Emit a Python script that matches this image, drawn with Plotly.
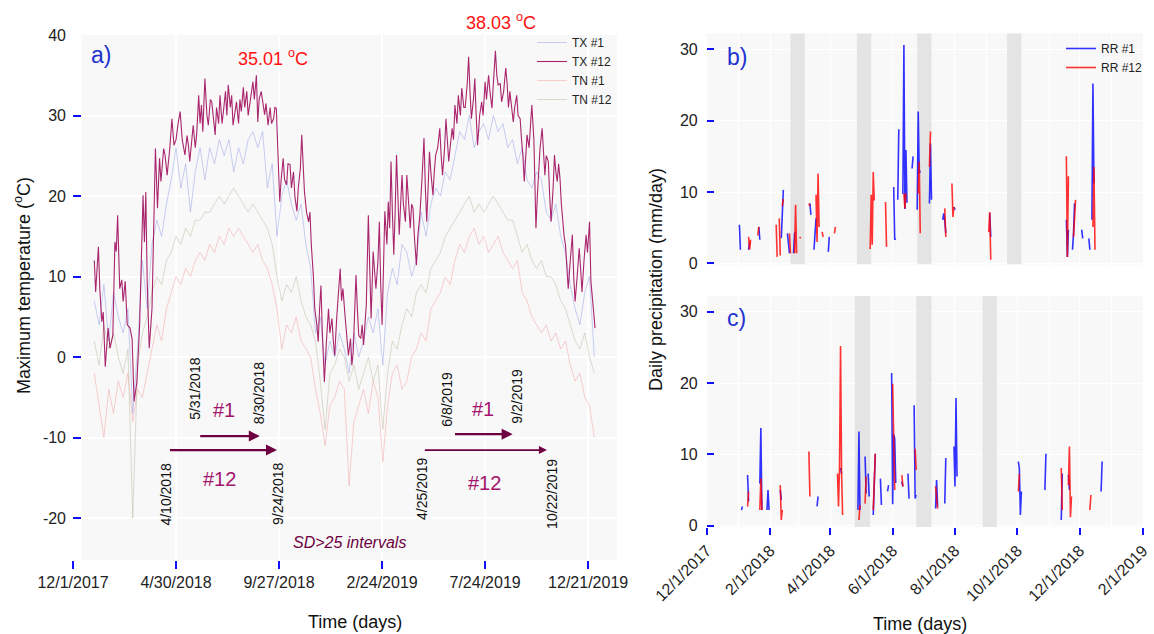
import pandas as pd
import plotly.graph_objects as go

FONT = "Liberation Sans, Arial, sans-serif"
W, H = 1154, 634

# ---------------- Panel a data (days counted from 2018-01-01) ----------------
temp_start = "2018-01-01"
tx12_pairs = [
    (0, 12.0), (2, 8.1), (6, 13.7), (8, 8.5), (11, 4.4), (13, 5.6), (16, -1.2), (20, 3.6), (23, 1.1), (27, 2.7),
    (30, 14.3), (32, 13.1), (34, 17.6), (37, 8.5), (40, 9.6), (42, 6.9), (45, 9.4), (48, 4.0), (52, 3.6), (55, 2.3),
    (58, -5.5), (62, -3.1), (66, 4.0), (69, 15.2), (71, 20.1), (73, 14.3), (75, 20.5), (77, 9.4), (80, 1.1), (84, 6.0),
    (87, 17.6), (89, 25.9), (92, 18.5), (95, 24.7), (97, 21.8), (101, 25.9), (103, 25.1), (106, 22.6), (110, 26.0), (113, 29.6),
    (116, 26.3), (119, 27.0), (122, 29.0), (125, 30.5), (128, 27.0), (132, 25.1), (135, 27.5), (137, 26.3), (139, 24.3), (144, 28.8),
    (147, 26.0), (149, 27.6), (152, 32.5), (154, 29.0), (156, 31.3), (158, 28.0), (161, 34.6), (164, 30.0), (166, 28.8), (169, 32.0),
    (171, 31.7), (174, 29.0), (176, 27.6), (178, 31.0), (181, 29.0), (183, 32.5), (186, 29.0), (188, 30.5), (191, 33.0), (193, 30.0),
    (195, 33.8), (198, 31.0), (200, 32.5), (202, 28.8), (205, 31.0), (207, 31.7), (210, 29.0), (212, 32.0), (214, 30.5), (217, 33.5),
    (219, 31.0), (222, 33.0), (224, 30.0), (227, 31.7), (229, 33.0), (231, 34.2), (233, 32.0), (236, 35.01), (238, 29.2), (240, 32.0),
    (243, 33.0), (246, 31.0), (248, 30.1), (250, 31.5), (253, 28.8), (256, 31.0), (258, 29.0), (261, 29.6), (263, 31.0), (265, 30.9),
    (268, 24.3), (270, 19.3), (272, 22.0), (275, 24.7), (277, 22.0), (280, 21.4), (282, 24.0), (285, 23.9), (287, 21.0), (290, 23.0),
    (292, 20.0), (295, 18.1), (297, 21.0), (300, 23.4), (302, 27.6), (304, 24.0), (306, 20.5), (309, 18.0), (312, 16.8), (314, 18.0),
    (316, 13.9), (319, 10.0), (321, 6.0), (324, 4.0), (326, 1.9), (328, 6.0), (330, 8.9), (332, 3.0), (335, -3.1), (338, 2.0),
    (341, 6.0), (343, 3.0), (346, 4.8), (348, 2.0), (350, 0.2), (353, 5.0), (355, 8.0), (358, 11.0), (360, 7.0), (362, 8.5),
    (365, 5.2), (367, 3.0), (370, 0.2), (373, 2.3), (375, -1.0), (377, 0.7), (379, 5.0), (381, 10.2), (383, 6.0), (385, 2.7),
    (388, 2.3), (390, 4.0), (392, 1.5), (394, 4.0), (396, 6.5), (399, 17.6), (401, 9.0), (403, 4.8), (406, 13.1), (408, 10.0),
    (410, 8.5), (413, 12.0), (415, 16.8), (417, 9.0), (419, 4.0), (421, 11.0), (423, 18.1), (426, 14.0), (428, 19.3), (430, 16.0),
    (432, 24.3), (434, 18.0), (436, 12.7), (438, 18.0), (440, 25.1), (442, 20.0), (444, 15.2), (446, 19.0), (448, 22.6), (450, 19.0),
    (453, 16.8), (455, 22.6), (457, 20.0), (460, 16.0), (462, 19.0), (464, 18.5), (466, 15.0), (469, 11.4), (471, 15.0), (474, 17.6),
    (477, 22.0), (480, 27.2), (482, 21.0), (484, 16.8), (486, 21.0), (488, 25.5), (490, 23.0), (493, 20.1), (495, 23.0), (497, 25.1),
    (500, 26.0), (503, 28.4), (505, 25.0), (507, 22.6), (510, 26.0), (512, 29.6), (514, 27.0), (516, 24.3), (518, 26.0), (521, 28.4),
    (523, 27.0), (525, 31.3), (528, 29.0), (530, 32.5), (533, 30.0), (535, 33.4), (538, 31.0), (540, 31.0), (543, 34.0), (545, 37.3),
    (547, 33.0), (549, 29.6), (552, 32.0), (554, 34.6), (556, 30.0), (558, 26.3), (561, 30.0), (564, 31.7), (566, 30.0), (569, 34.2),
    (571, 32.0), (574, 35.0), (576, 33.0), (579, 30.9), (581, 34.0), (584, 38.03), (586, 35.0), (588, 33.8), (591, 34.0), (593, 31.7),
    (596, 33.0), (599, 35.9), (601, 34.0), (603, 31.0), (605, 33.0), (608, 31.0), (610, 29.2), (612, 31.0), (615, 32.5), (617, 30.0),
    (620, 29.6), (622, 27.0), (624, 25.0), (626, 21.8), (628, 25.0), (630, 27.6), (633, 26.0), (635, 29.0), (637, 31.3), (640, 27.0),
    (643, 16.0), (645, 20.0), (647, 23.4), (649, 26.0), (652, 28.4), (654, 25.0), (656, 22.6), (658, 25.0), (661, 24.3), (663, 20.0),
    (665, 16.8), (668, 21.0), (670, 25.1), (672, 23.0), (674, 21.8), (676, 24.0), (678, 22.2), (680, 19.0), (682, 16.8), (684, 15.0),
    (686, 13.9), (688, 11.0), (690, 8.5), (693, 12.0), (696, 15.2), (698, 10.0), (700, 6.9), (703, 10.0), (706, 13.5), (708, 11.0),
    (710, 8.1), (713, 12.0), (716, 15.2), (718, 13.0), (721, 16.8), (723, 9.4), (725, 7.0), (727, 5.6), (729, 3.6),
]
tx12_day = [d for d, _ in tx12_pairs]
tx12_val = [v for _, v in tx12_pairs]

# weekly readings (every 7 days from 2018-01-01)
tx1_weekly = [7, 4, 9, 2, 8, 5, 3, 6, -7, 1, 12, 6, 14, 17, 15, 19, 22, 26, 21, 24, 18, 23, 26, 22, 26, 24, 27,
              25, 27, 23, 26, 24, 27, 28, 26, 28, 21, 24, 15, 20, 22, 19, 17, 19, 14, 11, 3, 5, -1, 2, 0, 3, 1,
              -2, 3, 0, 2, 5, 3, 6, -1, 8, 11, 9, 14, 13, 10, 12, 18, 15, 19, 21, 20, 23, 22, 25, 28, 27, 30, 26,
              28, 29, 27, 30, 28, 29, 26, 27, 24, 26, 22, 21, 23, 22, 18, 17, 19, 15, 13, 9, 6, 4, 8, 10, 0]
tn12_weekly = [2, -1, 4, 1, 3, 0, -2, 1, -20, -1, 3, 5, 8, 10, 9, 12, 13, 15, 14, 16, 15, 17, 17, 18, 18, 19, 20,
               19, 20, 21, 20, 19, 18, 19, 18, 17, 16, 14, 10, 7, 9, 8, 10, 7, 5, 4, 2, -3, -9, -2, -1, 1, 0,
               -3, -1, -4, -2, 0, -3, -1, -9, -2, 2, 1, 4, 6, 5, 8, 9, 8, 11, 12, 13, 15, 16, 17, 18, 19, 20, 18,
               19, 18, 19, 20, 19, 18, 17, 17, 15, 13, 14, 12, 11, 12, 10, 10, 9, 7, 6, 4, 2, 1, 3, 0, -2]
tn1_weekly = [-2, -6, -10, -4, -7, -3, -5, -2, -8, -4, -5, -2, 1, 4, 2, 6, 8, 10, 9, 11, 10, 12, 13, 12, 14, 13, 15,
              14, 16, 15, 16, 15, 14, 13, 14, 12, 11, 9, 6, 1, 4, 3, 5, 2, 1, 0, -4, -7, -11, -6, -5, -3, -4,
              -16, -8, -6, -4, -7, -3, -5, -13, -6, -2, -1, -4, -3, 0, 1, 3, 2, 6, 7, 8, 10, 9, 12, 14, 13, 15, 16,
              14, 15, 13, 14, 15, 13, 12, 11, 12, 8, 7, 5, 4, 3, 4, 2, 3, 1, 2, -1, -3, -2, -5, -6, -10]

a_tick_dates = ["2017-12-01", "2018-04-30", "2018-09-27", "2019-02-24", "2019-07-24", "2019-12-21"]
a_tick_text = ["12/1/2017", "4/30/2018", "9/27/2018", "2/24/2019", "7/24/2019", "12/21/2019"]
a_ytick_vals = [-20, -10, 0, 10, 20, 30, 40]
a_ytick_text = ["-20", "-10", "0", "10", "20", "30", "40"]

peak_labels = ["35.01 <sup>o</sup>C", "38.03 <sup>o</sup>C"]
interval_dates = ["5/31/2018", "8/30/2018", "4/10/2018", "9/24/2018", "6/8/2019", "9/2/2019", "4/25/2019", "10/22/2019"]
interval_iso = ["2018-05-31", "2018-08-30", "2018-04-10", "2018-09-24", "2019-06-08", "2019-09-02", "2019-04-25", "2019-10-22"]
arrow_start = ["2018-06-02", "2018-04-19", "2019-06-08", "2019-04-25"]
arrow_end = ["2018-08-30", "2018-09-24", "2019-09-02", "2019-10-22"]
arrow_names = ["#1", "#12", "#1", "#12"]

# ---------------- Panels b/c data: (start day from 2018-01-01, daily values) ----------------
rr1_b = [(1, [5.4, 1.9]), (10, [1.9, 3.0]), (20, [5.1, 3.3]), (42, [3.5, 7.7, 10.3]), (48, [4.2, 2.5, 1.4]),
         (54, [1.4, 4.2, 4.4]), (70, [8.4, 6.8]), (74, [1.9, 4.6, 6.3]), (88, [1.6, 3.7]), (152, [10.7, 3.3, 3.5]),
         (156, [8.9, 18.8]), (161, [9.7, 30.6, 7.6, 15.9, 8.5]), (170, [13.3, 15.0]), (175, [7.5, 21.3, 12.6, 13.0]),
         (187, [8.4, 16.8, 8.9]), (200, [6.1, 7.0, 6.0, 4.2]), (211, [7.9, 7.5]), (246, [7.0, 3.7]),
         (321, [6.1, 0.9, 4.7]), (327, [1.9, 4.2, 8.4]), (336, [4.7, 3.5]), (343, [3.5, 1.9]), (346, [6.1, 25.2, 11.2])]
rr12_b = [(10, [3.7, 1.9, 3.3]), (19, [3.9, 5.1]), (37, [5.4, 0.9]), (40, [6.3, 1.1]), (43, [8.0, 9.0]),
          (50, [4.2, 1.4]), (55, [1.4, 8.2, 1.4]), (60, [3.7, 3.5]), (69, [8.4, 8.0]), (76, [9.6, 3.0, 12.6, 5.1]),
          (82, [4.4, 3.7]), (94, [4.2, 5.1]), (129, [2.0, 9.6, 2.6, 12.8, 8.8]), (144, [8.6, 2.3]),
          (162, [9.8, 7.7, 9.8]), (176, [9.8, 14.2, 4.2]), (187, [13.5, 18.5]), (202, [7.7, 3.7]),
          (209, [11.2, 6.5, 7.9]), (245, [4.4, 7.2, 0.5]), (321, [15.0, 0.9, 12.2]), (328, [3.7, 7.5, 8.9]),
          (347, [5.1, 13.5, 1.9])]
rr1_c = [(3, [2.2, 2.7]), (9, [7.1, 3.4]), (21, [5.9, 13.7, 2.2]), (28, [2.2, 5.0, 2.2]), (41, [5.0, 3.6]),
         (77, [2.7, 4.1]), (100, [8.1, 7.3]), (117, [2.2, 13.2, 2.2]), (124, [9.7, 4.5]), (127, [7.3, 4.1]),
         (132, [1.5, 6.0, 10.1]), (139, [6.6, 2.9]), (146, [4.8, 5.7]), (150, [21.4, 3.0, 12.8, 12.2, 6.0]),
         (160, [6.2, 5.5]), (166, [7.3, 3.8]), (172, [16.9, 3.8, 4.3]), (193, [2.4, 6.4, 2.7]), (202, [3.1, 9.5]),
         (211, [11.1, 5.5, 17.9, 6.9]), (274, [9.0, 8.0, 1.5, 4.8]), (300, [5.0, 10.1]), (316, [0.8, 7.3]),
         (323, [7.1, 5.0]), (355, [4.8, 9.0])]
rr12_c = [(9, [2.7, 4.8]), (21, [2.2, 6.6, 2.2]), (41, [5.7, 0.8, 2.2]), (69, [10.4, 4.1]),
          (97, [7.3, 2.7, 8.3, 25.2, 7.5, 1.5]), (118, [0.8, 2.9]), (124, [3.1, 6.9]), (132, [2.2, 6.0, 10.1]),
          (151, [19.9, 10.0, 5.0]), (160, [7.1, 5.5]), (173, [10.8, 7.8]), (193, [5.5, 4.0, 2.4]), (274, [4.8, 7.3]),
          (316, [8.1, 2.2]), (323, [5.7, 11.1, 1.2, 4.1]), (344, [2.2, 4.3])]

band_b_start = ["2018-02-21", "2018-04-27", "2018-06-25", "2018-09-21"]
band_b_end = ["2018-03-07", "2018-05-11", "2018-07-09", "2018-10-05"]
band_c_start = ["2018-04-25", "2018-06-24", "2018-08-28"]
band_c_end = ["2018-05-10", "2018-07-09", "2018-09-11"]

bc_tick_dates = ["2017-12-01", "2018-02-01", "2018-04-01", "2018-06-01", "2018-08-01", "2018-10-01", "2018-12-01", "2019-02-01"]
bc_tick_text = ["12/1/2017", "2/1/2018", "4/1/2018", "6/1/2018", "8/1/2018", "10/1/2018", "12/1/2018", "2/1/2019"]
bc_ytick_vals = [0, 10, 20, 30]

YR_B = [-0.17, 32.26]
YR_C = [-0.18, 32.2]


# ---------------- helpers ----------------
def px_x(p):
    return p / W


def px_y(p):
    return 1 - p / H


def seg_xy(segs):
    base = pd.Timestamp(temp_start)
    xs, ys = [], []
    for start, vals in segs:
        d0 = base + pd.Timedelta(days=start)
        for i, v in enumerate(vals):
            xs.append((d0 + pd.Timedelta(days=i)).strftime("%Y-%m-%d"))
            ys.append(v)
        xs.append((d0 + pd.Timedelta(days=len(vals))).strftime("%Y-%m-%d"))
        ys.append(None)
    return xs, ys


def band_bars(starts, ends, yr, xa, ya):
    s = pd.to_datetime(starts)
    e = pd.to_datetime(ends)
    mids = [(a + (b - a) / 2).strftime("%Y-%m-%d %H:%M:%S") for a, b in zip(s, e)]
    widths = [(b - a).total_seconds() * 1000 for a, b in zip(s, e)]
    return go.Bar(x=mids, y=[yr[1] - yr[0]] * len(mids), base=yr[0], width=widths,
                  marker=dict(color="#e4e4e4", line=dict(width=0)), showlegend=False,
                  hoverinfo="skip", xaxis=xa, yaxis=ya)


base = pd.Timestamp(temp_start)
tx12_x = [(base + pd.Timedelta(days=d)).strftime("%Y-%m-%d") for d in tx12_day]


def weekly_x(n):
    return [d.strftime("%Y-%m-%d") for d in pd.date_range(temp_start, periods=n, freq="7D")]


fig = go.Figure()

# Panel a traces (drawing order: faint first)
fig.add_trace(go.Scatter(x=weekly_x(len(tn1_weekly)), y=tn1_weekly, name="TN #1", mode="lines",
                         line=dict(color="rgba(245,150,150,0.45)", width=1), legendrank=3,
                         xaxis="x", yaxis="y", legend="legend"))
fig.add_trace(go.Scatter(x=weekly_x(len(tn12_weekly)), y=tn12_weekly, name="TN #12", mode="lines",
                         line=dict(color="rgba(195,190,165,0.55)", width=1), legendrank=4,
                         xaxis="x", yaxis="y", legend="legend"))
fig.add_trace(go.Scatter(x=weekly_x(len(tx1_weekly)), y=tx1_weekly, name="TX #1", mode="lines",
                         line=dict(color="rgba(165,175,235,0.6)", width=1), legendrank=1,
                         xaxis="x", yaxis="y", legend="legend"))
fig.add_trace(go.Scatter(x=tx12_x, y=tx12_val, name="TX #12", mode="lines",
                         line=dict(color="rgba(155,0,85,0.85)", width=1.1), legendrank=2,
                         xaxis="x", yaxis="y", legend="legend"))

# grey interval bands (drawn above grid, below lines)
fig.add_trace(band_bars(band_b_start, band_b_end, YR_B, "x2", "y2"))
fig.add_trace(band_bars(band_c_start, band_c_end, YR_C, "x3", "y3"))

# Panel b
xb1, yb1 = seg_xy(rr1_b)
xb12, yb12 = seg_xy(rr12_b)
fig.add_trace(go.Scatter(x=xb1, y=yb1, name="RR #1", mode="lines", connectgaps=False,
                         line=dict(color="rgba(0,0,255,0.8)", width=1.6), xaxis="x2", yaxis="y2", legend="legend2"))
fig.add_trace(go.Scatter(x=xb12, y=yb12, name="RR #12", mode="lines", connectgaps=False,
                         line=dict(color="rgba(255,0,0,0.8)", width=1.6), xaxis="x2", yaxis="y2", legend="legend2"))
# Panel c
xc1, yc1 = seg_xy(rr1_c)
xc12, yc12 = seg_xy(rr12_c)
fig.add_trace(go.Scatter(x=xc1, y=yc1, name="RR #1", mode="lines", connectgaps=False, showlegend=False,
                         line=dict(color="rgba(0,0,255,0.8)", width=1.6), xaxis="x3", yaxis="y3"))
fig.add_trace(go.Scatter(x=xc12, y=yc12, name="RR #12", mode="lines", connectgaps=False, showlegend=False,
                         line=dict(color="rgba(255,0,0,0.8)", width=1.6), xaxis="x3", yaxis="y3"))

tickfont = dict(family=FONT, size=16, color="#222")
blue = "#1010ff"

fig.update_layout(
    width=W, height=H, autosize=False,
    margin=dict(l=0, r=0, t=0, b=0),
    paper_bgcolor="white", plot_bgcolor="#f8f8f8",
    font=dict(family=FONT, color="#222"),
    barmode="overlay",
    xaxis=dict(domain=[px_x(73), px_x(617)], anchor="y", type="date",
               range=["2017-12-01", "2020-02-01"], tickvals=a_tick_dates, ticktext=a_tick_text,
               ticks="outside", ticklen=8, tickcolor=blue, tickwidth=1.5, tickfont=tickfont,
               showgrid=True, gridcolor="white", gridwidth=1.5, zeroline=False, showline=False, automargin=False),
    yaxis=dict(domain=[px_y(560), px_y(35)], anchor="x", range=[-25.2, 40],
               tickvals=a_ytick_vals, ticktext=a_ytick_text, ticks="inside", ticklen=8, tickcolor=blue,
               tickwidth=1.5, tickfont=tickfont, ticklabelstandoff=6,
               showgrid=True, gridcolor="white", gridwidth=1.5, zeroline=False, showline=False, automargin=False),
    xaxis2=dict(domain=[px_x(706.7), px_x(1143)], anchor="y2", type="date",
                range=["2017-12-01", "2019-02-01"], tickvals=bc_tick_dates, showticklabels=False, ticks="",
                showgrid=True, gridcolor="white", gridwidth=1.2, zeroline=False, showline=False, automargin=False,
                minor=dict(showgrid=True, gridcolor="rgba(255,255,255,0.9)", dtick="M1", tick0="2017-12-01")),
    yaxis2=dict(domain=[px_y(264.5), px_y(33.3)], anchor="x2", range=YR_B,
                tickvals=bc_ytick_vals, ticks="inside", ticklen=7, tickcolor=blue, tickwidth=1.5,
                tickfont=tickfont, ticklabelstandoff=8,
                showgrid=True, gridcolor="white", gridwidth=1.2, zeroline=False, showline=False, automargin=False),
    xaxis3=dict(domain=[px_x(706.7), px_x(1143)], anchor="y3", type="date",
                range=["2017-12-01", "2019-02-01"], tickvals=bc_tick_dates, ticktext=bc_tick_text,
                tickangle=-45, ticks="outside", ticklen=7, tickcolor=blue, tickwidth=1.5, tickfont=tickfont,
                showgrid=True, gridcolor="white", gridwidth=1.2, zeroline=False, showline=False, automargin=False,
                minor=dict(showgrid=True, gridcolor="rgba(255,255,255,0.9)", dtick="M1", tick0="2017-12-01")),
    yaxis3=dict(domain=[px_y(527), px_y(296)], anchor="x3", range=YR_C,
                tickvals=bc_ytick_vals, ticks="inside", ticklen=7, tickcolor=blue, tickwidth=1.5,
                tickfont=tickfont, ticklabelstandoff=8,
                showgrid=True, gridcolor="white", gridwidth=1.2, zeroline=False, showline=False, automargin=False),
    legend=dict(x=px_x(532), y=px_y(28), xanchor="left", yanchor="top", bgcolor="rgba(0,0,0,0)",
                font=dict(family=FONT, size=12, color="#222"), tracegroupgap=0),
    legend2=dict(x=px_x(1061), y=px_y(34), xanchor="left", yanchor="top", bgcolor="rgba(0,0,0,0)",
                 font=dict(family=FONT, size=12, color="#222")),
    showlegend=True,
)

shapes = [
    # white strip at the left edge of panel a
    dict(type="rect", xref="x domain", yref="y domain", x0=0, x1=8.7 / 544, y0=0, y1=1,
         fillcolor="white", line=dict(width=0), layer="below"),
]
fig.update_layout(shapes=shapes)

ann = []
# panel letters
for txt, cx, cy in [("a)", 101, 55), ("b)", 736.5, 56.5), ("c)", 736.5, 317.5)]:
    ann.append(dict(text=txt, x=px_x(cx), y=px_y(cy), xref="paper", yref="paper", showarrow=False,
                    xanchor="center", yanchor="middle", font=dict(family=FONT, size=23, color="#1f33d0")))
# peak labels
for txt, cx, cy in zip(peak_labels, [273, 501], [58, 21]):
    ann.append(dict(text=txt, x=px_x(cx), y=px_y(cy), xref="paper", yref="paper", showarrow=False,
                    xanchor="center", yanchor="middle", font=dict(family=FONT, size=18, color="#ff1010")))
# vertical interval dates
date_y = [-3.9, -4.5, -17.1, -17.0, -5.2, -4.9, -16.4, -17.0]
date_shift = [-2, -1, 3.5, 1, -6.7, 3.5, -1.5, 5]
for txt, xd, yv, sh in zip(interval_dates, interval_iso, date_y, date_shift):
    ann.append(dict(text=txt, x=xd, y=yv, xref="x", yref="y", showarrow=False, textangle=-90,
                    xanchor="center", yanchor="middle", xshift=sh,
                    font=dict(family=FONT, size=14, color="#111")))
# arrows
arrow_y = [-9.81, -11.55, -9.57, -11.55]
arrow_w = [2.2, 2.2, 2.2, 1.6]
for s, e, yv, aw in zip(arrow_start, arrow_end, arrow_y, arrow_w):
    ann.append(dict(text="", x=e, y=yv, ax=s, ay=yv, xref="x", yref="y", axref="x", ayref="y",
                    showarrow=True, arrowhead=2, arrowsize=1.0, arrowwidth=aw, arrowcolor="#6e0041",
                    standoff=0, startstandoff=0))
# #1 / #12 labels
name_x = ["2018-07-09", "2018-07-03", "2019-07-21", "2019-07-23"]
name_y = [-6.6, -15.2, -6.5, -15.6]
for txt, xd, yv in zip(arrow_names, name_x, name_y):
    ann.append(dict(text=txt, x=xd, y=yv, xref="x", yref="y", showarrow=False,
                    xanchor="center", yanchor="middle", font=dict(family=FONT, size=20, color="#a3146e")))
ann.append(dict(text="<i>SD>25 intervals</i>", x="2019-01-07", y=-23.0, xref="x", yref="y", showarrow=False,
                xanchor="center", yanchor="middle", font=dict(family=FONT, size=16, color="#6e0041")))
# axis titles
ann.append(dict(text="Maximum temperature (<sup>o</sup>C)", x=px_x(22), y=px_y(286), xref="paper", yref="paper",
                showarrow=False, textangle=-90, xanchor="center", yanchor="middle",
                font=dict(family=FONT, size=18, color="#111")))
ann.append(dict(text="Time (days)", x=px_x(355), y=px_y(622), xref="paper", yref="paper", showarrow=False,
                xanchor="center", yanchor="middle", font=dict(family=FONT, size=18, color="#111")))
ann.append(dict(text="Daily precipitation (mm/day)", x=px_x(656), y=px_y(280), xref="paper", yref="paper",
                showarrow=False, textangle=-90, xanchor="center", yanchor="middle",
                font=dict(family=FONT, size=18, color="#111")))
ann.append(dict(text="Time (days)", x=px_x(920), y=px_y(624), xref="paper", yref="paper", showarrow=False,
                xanchor="center", yanchor="middle", font=dict(family=FONT, size=18, color="#111")))
fig.update_layout(annotations=ann)

fig.write_html("out.html", config={"displayModeBar": False},
               post_script="document.body.style.margin='0px';")
